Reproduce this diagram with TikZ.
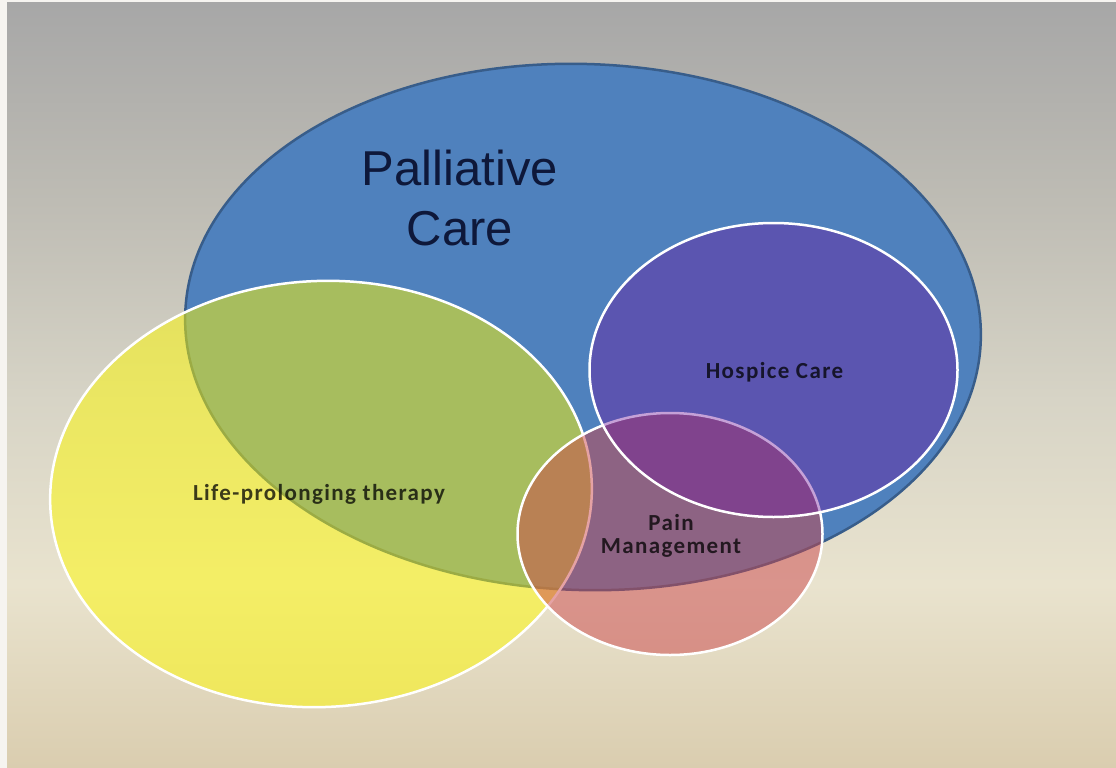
\documentclass[tikz,border=0pt]{standalone}
\usepackage{fontspec}
\setmainfont{Carlito}
\newfontfamily\headfont{Liberation Sans}
\newfontfamily\labelfont{Carlito}[LetterSpace=6]
\usetikzlibrary{shapes.geometric}

\definecolor{pallblue}{RGB}{79,129,189}
\definecolor{pallline}{RGB}{56,93,138}
\definecolor{pallink}{RGB}{14,24,58}
\definecolor{lifeyellow}{RGB}{255,250,0}
\definecolor{painred}{RGB}{204,70,75}
\definecolor{hospviolet}{RGB}{110,20,157}
\definecolor{bgedge}{RGB}{246,244,240}
\definecolor{bgtop}{RGB}{167,167,167}
\definecolor{bgupper}{RGB}{190,188,180}
\definecolor{bgmid}{RGB}{215,212,198}
\definecolor{bglight}{RGB}{233,227,206}
\definecolor{bgbot}{RGB}{218,205,175}
\pgfdeclareverticalshading{slidebg}{100bp}{color(0bp)=(bgbot); color(25bp)=(bgbot);
  color(37bp)=(bglight); color(49bp)=(bgmid); color(62bp)=(bgupper);
  color(75bp)=(bgtop); color(100bp)=(bgtop)}

\begin{document}
\begin{tikzpicture}[x=1pt,y=-1pt,
    bubble/.style={ellipse,inner sep=0pt,line width=2.5pt},
    lbl/.style={font=\labelfont\bfseries\fontsize{23}{23}\selectfont,text=black,text opacity=0.75,inner sep=0pt}]
  \useasboundingbox (0,0) rectangle (1116,768);
  \fill[bgedge] (0,0) rectangle (1116,768);
  \shade[shading=slidebg] (7,3) rectangle (1116,768);

  \node[bubble,fill=pallblue,draw=pallline,minimum width=796,minimum height=526,rotate=-2] (palliative) at (583,327) {};
  \node[bubble,fill=lifeyellow,fill opacity=0.5,draw=white,minimum width=542,minimum height=426,rotate=3] (life) at (321,494) {};
  \node[bubble,fill=painred,fill opacity=0.5,draw=white,minimum width=305,minimum height=242] (pain) at (670,534) {};
  \node[bubble,fill=hospviolet,fill opacity=0.4,draw=white,minimum width=368,minimum height=294] (hospice) at (773.5,370) {};

  \node[font=\headfont\fontsize{49}{60}\selectfont,text=pallink,align=center,inner sep=0pt] (pallText) at (460,197.5) {Palliative\\Care};
  \node[lbl,anchor=base] (hospText) at (774.5,378) {Hospice Care};
  \node[lbl,anchor=base] (lifeText) at (319,500) {Life-prolonging therapy};
  \node[lbl,align=center] (painText) at (671,535.5) {Pain\\Management};
\end{tikzpicture}
\end{document}
